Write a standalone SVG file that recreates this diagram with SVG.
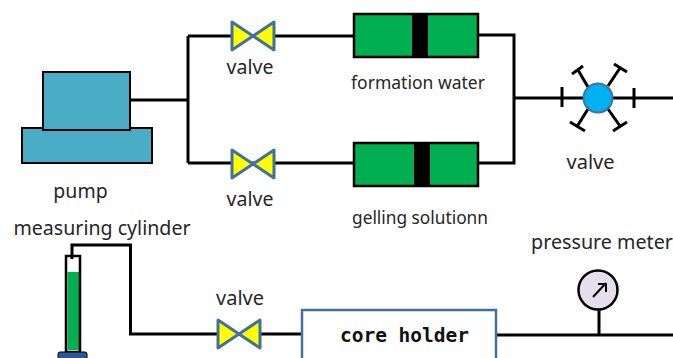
<svg xmlns="http://www.w3.org/2000/svg" width="673" height="358" viewBox="0 0 673 358">
<defs>
<style>
.t{font-family:"Noto Sans","Open Sans",sans-serif;fill:#262626}
.l{fill:none;stroke:#000;stroke-width:3}
.v{fill:#ffff00;stroke:#41719c;stroke-width:3;stroke-linejoin:round}
.p{fill:#4bacc6;stroke:#000;stroke-width:2}
.c{fill:#00b050;stroke:#000;stroke-width:2.5}
</style>
<g id="valve-shape"><path class="v" d="M-21,-14 L0,0 L-21,14 Z"/><path class="v" d="M21,-14 L0,0 L21,14 Z"/></g>
</defs>
<rect width="673" height="358" fill="#fff"/>
<g id="connectors">
<path class="l" d="M131,100 H188 M188,36 V163 M188,36 H354 M188,163 H354 M478,35 H514 V163 H478 M514,98 H673"/>
<path class="l" d="M72,259 V245 H130.500 V334 H302"/>
<path class="l" d="M497,335 H673 M599,310 V335"/>
<path class="l" d="M562,87 V107 M634,88 V108"/>
<path class="l" d="M588,87 L578,70 M572,74 L583,66 M608,86 L620,68 M614,64 L627,72 M588,109 L578,125 M570,122 L585,131 M608,109 L620,126 M613,131 L627,122"/>
</g>
<g id="pump"><rect class="p" x="22" y="128" width="130" height="35"/><rect class="p" x="43" y="72" width="87" height="58"/></g>
<g id="valve-top"><use href="#valve-shape" x="253" y="36"/></g>
<g id="valve-middle"><use href="#valve-shape" x="253" y="164"/></g>
<g id="valve-bottom"><use href="#valve-shape" x="239" y="334"/></g>
<g id="formation-water"><rect class="c" x="354" y="14" width="124" height="43"/><rect x="412" y="14" width="16" height="43" fill="#000"/></g>
<g id="gelling-solution"><rect class="c" x="354" y="143" width="124" height="43"/><rect x="414" y="143" width="16" height="43" fill="#000"/></g>
<g id="valve-right"><circle cx="598" cy="98" r="14.500" fill="#00b0f0" stroke="#41719c" stroke-width="2"/></g>
<g id="cylinder"><rect x="67.500" y="272" width="11.500" height="78" fill="#00b050"/><rect x="66" y="256" width="14" height="96" fill="none" stroke="#000" stroke-width="2.500"/><rect x="58" y="352" width="29" height="8" rx="2" fill="#2f5597" stroke="#000"/></g>
<g id="core-holder"><rect x="302" y="310" width="194" height="60" fill="#fff" stroke="#41719c" stroke-width="2.500"/></g>
<g id="pressure-meter"><circle cx="598" cy="290" r="19.500" fill="#e4dfec" stroke="#000" stroke-width="2.500"/><path d="M593,297 L606,283 M598,284 H606 V292" fill="none" stroke="#000" stroke-width="2"/></g>
<g id="labels">
<text class="t" x="250" y="74" font-size="19.500" text-anchor="middle">valve</text>
<text class="t" x="250" y="206" font-size="19.500" text-anchor="middle">valve</text>
<text class="t" x="240" y="305" font-size="20" text-anchor="middle">valve</text>
<text class="t" x="590.500" y="169" font-size="20" text-anchor="middle">valve</text>
<text class="t" x="418" y="88.500" font-size="17.500" text-anchor="middle">formation water</text>
<text class="t" x="420" y="224" font-size="17.300" text-anchor="middle">gelling solutionn</text>
<text class="t" x="80.500" y="198" font-size="19.500" text-anchor="middle">pump</text>
<text class="t" x="102" y="235" font-size="19.600" text-anchor="middle">measuring cylinder</text>
<text class="t" x="602" y="249" font-size="19.700" text-anchor="middle">pressure meter</text>
<text x="404.500" y="342" font-size="19.500" font-weight="bold" text-anchor="middle" font-family="'DejaVu Sans Mono','Liberation Mono',monospace" fill="#111">core holder</text>
</g>
</svg>
